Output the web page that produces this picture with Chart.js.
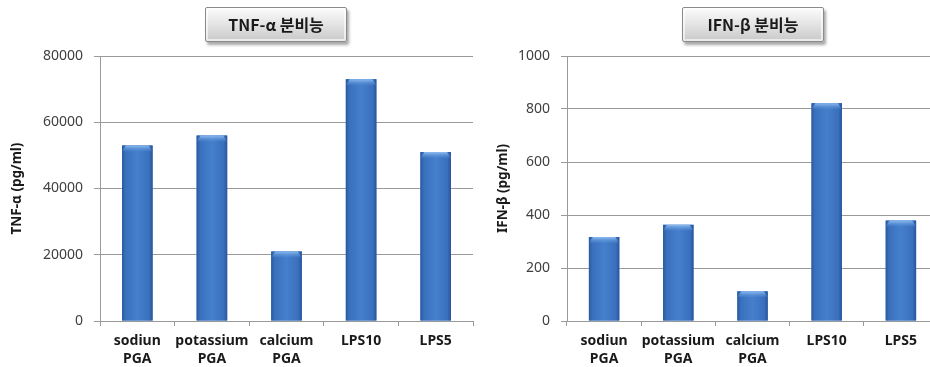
<!DOCTYPE html>
<html>
<head>
<meta charset="utf-8">
<script src="https://cdn.jsdelivr.net/npm/chart.js@4/dist/chart.umd.min.js"></script>
<style>
  html, body { margin: 0; padding: 0; background: #fff; overflow: hidden; width: 930px; height: 367px; }
  .panel { position: absolute; top: 0; height: 367px; }
  .panel canvas { display: block; }
  .titlebox {
    position: absolute; top: 7px; width: 140px; height: 33px;
    border: 1px solid #8a8a8a; border-radius: 2px;
    background: linear-gradient(#fbfbfb, #e6e6e6 45%, #c9c9c9);
    box-shadow: 2px 3px 3px rgba(0,0,0,0.35), inset 0 0 0 2px rgba(255,255,255,0.6);
    font: bold 16px "Noto Sans CJK KR", "Noto Sans", sans-serif; color: #1a1a1a;
    text-align: center; line-height: 33px; z-index: 2;
  }
</style>
</head>
<body>
<div class="panel" style="left:0;width:475px"><canvas id="tnfChart" width="475" height="367"></canvas></div>
<div class="panel" style="left:475px;width:475px"><canvas id="ifnChart" width="475" height="367"></canvas></div>
<div class="titlebox" style="left:205px">TNF-α 분비능</div>
<div class="titlebox" style="left:682px">IFN-β 분비능</div>
<script>
// samples
const categories = [['sodiun', 'PGA'], ['potassium', 'PGA'], ['calcium', 'PGA'], 'LPS10', 'LPS5'];

// secretion, pg/ml
const tnfValues = [53000, 56000, 21000, 73000, 51000];
const ifnValues = [317, 363, 112, 822, 379];

const tnfTicks = { max: 80000, step: 20000 };
const ifnTicks = { max: 1000, step: 200 };

// shade each bar like a rounded column: dark edges, lighter middle, bevelled top
const columnShade = {
  id: 'columnShade',
  afterDatasetsDraw(chart) {
    const ctx = chart.ctx;
    chart.getDatasetMeta(0).data.forEach(bar => {
      const left = bar.x - bar.width / 2;
      const w = bar.width;
      const top = bar.y;
      const h = bar.base - bar.y;
      ctx.save();
      const g = ctx.createLinearGradient(left, 0, left + w, 0);
      g.addColorStop(0, '#2a5a9f');
      g.addColorStop(0.12, '#3a70bd');
      g.addColorStop(0.5, '#4580cc');
      g.addColorStop(0.88, '#3a70bd');
      g.addColorStop(1, '#28559a');
      ctx.fillStyle = g;
      ctx.fillRect(left, top, w, h);
      // top bevel
      const b = ctx.createLinearGradient(0, top, 0, top + 7);
      b.addColorStop(0, '#8fbcf0');
      b.addColorStop(1, 'rgba(80,140,215,0)');
      ctx.fillStyle = b;
      ctx.beginPath();
      ctx.moveTo(left, top + 6);
      ctx.lineTo(left + 4, top);
      ctx.lineTo(left + w - 4, top);
      ctx.lineTo(left + w, top + 6);
      ctx.closePath();
      ctx.fill();
      ctx.restore();
    });
  }
};

function makeChart(id, values, ticks, yTitle, yWidth, padRight, titlePad) {
  return new Chart(document.getElementById(id), {
    type: 'bar',
    data: {
      labels: categories,
      datasets: [{
        data: values,
        backgroundColor: '#3d75c4',
        borderWidth: 0,
        barPercentage: 0.41,
        categoryPercentage: 1
      }]
    },
    options: {
      responsive: false,
      animation: false,
      layout: { padding: { top: 56, right: padRight, bottom: 0, left: 0 } },
      plugins: { legend: { display: false }, tooltip: { enabled: false } },
      scales: {
        x: {
          grid: { offset: true, drawOnChartArea: false, color: '#9a9a9a', tickLength: 5 },
          border: { color: '#9a9a9a' },
          ticks: {
            color: '#1a1a1a', padding: 6, maxRotation: 0, autoSkip: false,
            font: { family: 'Noto Sans', size: 14, weight: 'bold', lineHeight: 1.3 }
          },
          afterFit: s => { s.height = 46; }
        },
        y: {
          min: 0, max: ticks.max,
          grid: { color: '#9a9a9a', tickLength: 6 },
          border: { color: '#9a9a9a' },
          ticks: {
            stepSize: ticks.step, padding: 11, color: '#404040',
            font: { family: 'Noto Sans', size: 14 },
            callback: v => String(v)
          },
          title: {
            display: true, text: yTitle, color: '#1a1a1a',
            padding: { top: titlePad, bottom: 0 },
            font: { family: 'Noto Sans', size: 13.5, weight: 'bold' }
          },
          afterFit: s => { s.width = yWidth; }
        }
      }
    },
    plugins: [columnShade]
  });
}

makeChart('tnfChart', tnfValues, tnfTicks, 'TNF-α (pg/ml)', 100, 2, 9);
makeChart('ifnChart', ifnValues, ifnTicks, 'IFN-β (pg/ml)', 92, 12, 20);
</script>
</body>
</html>
